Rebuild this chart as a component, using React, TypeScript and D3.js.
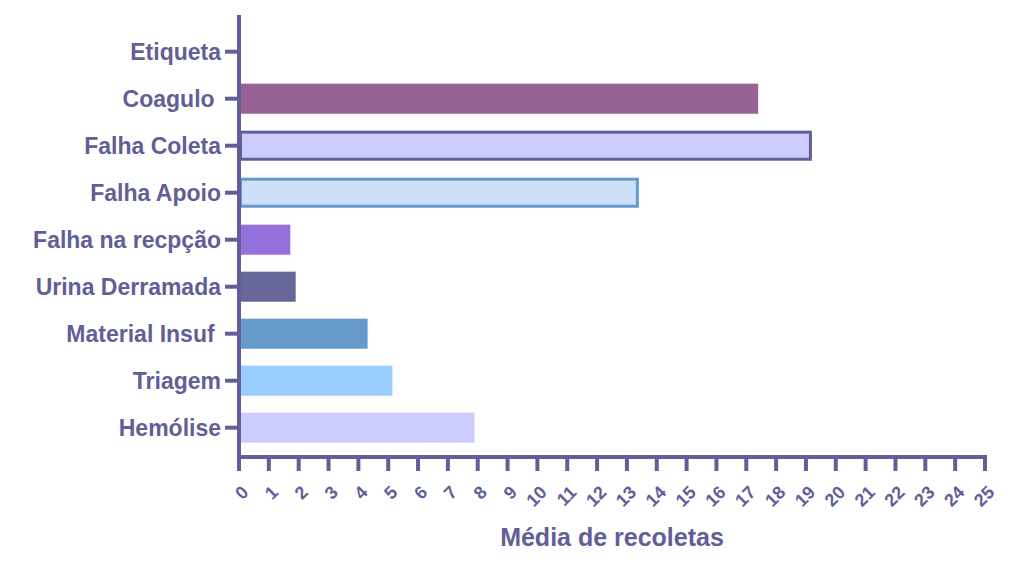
import React from "react";
import * as d3 from "d3";

const categories = ["Etiqueta", "Coagulo ", "Falha Coleta", "Falha Apoio", "Falha na recpção", "Urina Derramada", "Material Insuf ", "Triagem", "Hemólise"];
const values = [0, 17.4, 19.2, 13.4, 1.72, 1.9, 4.31, 5.14, 7.89];
const fills = ["none", "#966394", "#ccccff", "#cce0fa", "#9370db", "#666699", "#6699cc", "#99ccff", "#ccccff"];
const strokes = ["none", "none", "#625e98", "#6699cc", "none", "none", "none", "none", "none"];
const xTicks = d3.range(0, 26);
const xTitle = "Média de recoletas";

const W = 1024, H = 574;
const AX = "#625e98";
const FONT = "'Liberation Sans', Arial, sans-serif";

export default function App() {
  const x = d3.scaleLinear().domain([0, 25]).range([239, 985]);
  const y = d3.scaleBand<string>().domain(categories).range([28.2, 451.2]).paddingInner(0.36).paddingOuter(0.18);
  const axisY = 457;
  return (
    <svg width={W} height={H} style={{ position: "absolute", left: 0, top: 0, background: "#fff" }}>
      {categories.map((c, i) => {
        if (values[i] <= 0) return null;
        const sw = strokes[i] === "none" ? 0 : 3;
        return (
          <rect key={c}
            x={x(0) + sw / 2}
            y={(y(c) as number) + sw / 2}
            width={x(values[i]) - x(0) - sw}
            height={y.bandwidth() - sw}
            fill={fills[i]}
            stroke={strokes[i]}
            strokeWidth={sw} />
        );
      })}
      {/* y axis */}
      <line x1={x(0)} x2={x(0)} y1={15} y2={axisY + 2} stroke={AX} strokeWidth={4} />
      {categories.map((c) => {
        const cy = (y(c) as number) + y.bandwidth() / 2;
        return (
          <g key={c}>
            <line x1={225} x2={x(0)} y1={cy} y2={cy} stroke={AX} strokeWidth={4} />
            <text x={221} y={cy} dy="0.35em" textAnchor="end" fontFamily={FONT} fontWeight="bold" fontSize={23} fill={AX} style={{ whiteSpace: "pre" }}>{c}</text>
          </g>
        );
      })}
      {/* x axis */}
      <line x1={x(0) - 2} x2={x(25) + 2} y1={axisY} y2={axisY} stroke={AX} strokeWidth={4} />
      {xTicks.map((t) => (
        <g key={t}>
          <line x1={x(t)} x2={x(t)} y1={axisY} y2={axisY + 14} stroke={AX} strokeWidth={4} />
          <text transform={`translate(${x(t) + 6},${489}) rotate(-45)`} dy="0.35em" textAnchor="end" fontFamily={FONT} fontWeight="bold" fontSize={18} fill={AX}>{t}</text>
        </g>
      ))}
      <text x={612} y={546} textAnchor="middle" fontFamily={FONT} fontWeight="bold" fontSize={25} fill={AX}>{xTitle}</text>
    </svg>
  );
}
